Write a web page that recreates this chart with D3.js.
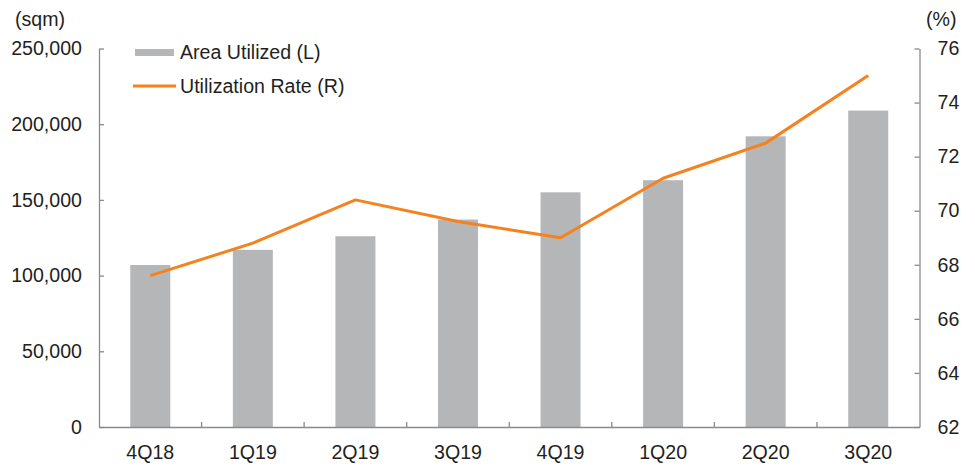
<!DOCTYPE html>
<html>
<head>
<meta charset="utf-8">
<script src="https://cdn.jsdelivr.net/npm/d3@7"></script>
<style>
  body { margin: 0; background: #fff; }
  text { font-family: "Liberation Sans", Arial, sans-serif; fill: #231f20; }
</style>
</head>
<body>
<div id="chart"></div>
<script>
/* global d3 */

const quarters = ['4Q18', '1Q19', '2Q19', '3Q19', '4Q19', '1Q20', '2Q20', '3Q20']
const areaUtilized = [107000, 117000, 126000, 137000, 155000, 163000, 192000, 209000]
const utilRate = [67.6, 68.8, 70.4, 69.6, 69.0, 71.2, 72.5, 75.0]
const leftTicks = [0, 50000, 100000, 150000, 200000, 250000]
const rightTicks = [62, 64, 66, 68, 70, 72, 74, 76]

const width = 975
const height = 466
const plot = {left: 99, right: 919.5, top: 48.5, bottom: 427}
const fontSize = 19.6
const axisColor = '#8a8a8a'
const barColor = '#b5b6b8'
const lineColor = '#f5821f'

const rows = quarters.map((q, i) => ({q: q, area: areaUtilized[i], rate: utilRate[i]}))

const svg = d3.select('#chart')
  .append('svg')
  .attr('width', width)
  .attr('height', height)

const xBand = d3.scaleBand()
  .domain(quarters)
  .range([plot.left, plot.right])
  .paddingInner(0.61)
  .paddingOuter(0.305)

const xStep = d3.scaleBand()
  .domain(quarters)
  .range([plot.left, plot.right])

const yL = d3.scaleLinear().domain([0, 250000]).range([plot.bottom, plot.top])
const yR = d3.scaleLinear().domain([62, 76]).range([plot.bottom, plot.top])

// bars
svg.append('g')
  .selectAll('rect')
  .data(rows)
  .enter()
  .append('rect')
  .attr('x', d => xBand(d.q))
  .attr('width', xBand.bandwidth())
  .attr('y', d => yL(d.area))
  .attr('height', d => yL(0) - yL(d.area))
  .attr('fill', barColor)

// line
const line = d3.line()
  .x(d => xStep(d.q) + xStep.bandwidth() / 2)
  .y(d => yR(d.rate))

svg.append('path')
  .datum(rows)
  .attr('d', line)
  .attr('fill', 'none')
  .attr('stroke', lineColor)
  .attr('stroke-width', 3)
  .attr('stroke-linejoin', 'round')

// left axis
const gL = svg.append('g')
  .attr('transform', `translate(${plot.left},0)`)
  .call(d3.axisLeft(yL)
    .tickValues(leftTicks)
    .tickFormat(d3.format(','))
    .tickSizeInner(-5)
    .tickSizeOuter(0)
    .tickPadding(17))

// right axis
const gR = svg.append('g')
  .attr('transform', `translate(${plot.right},0)`)
  .call(d3.axisRight(yR)
    .tickValues(rightTicks)
    .tickSizeInner(-5)
    .tickSizeOuter(0)
    .tickPadding(18))

// bottom axis
const gB = svg.append('g')
  .attr('transform', `translate(0,${plot.bottom})`)
  .call(d3.axisBottom(xStep)
    .tickSize(0)
    .tickPadding(18))

gB.selectAll('.tick-sep')
  .data(quarters.slice(1))
  .enter()
  .append('line')
  .attr('class', 'tick-sep')
  .attr('x1', d => xStep(d))
  .attr('x2', d => xStep(d))
  .attr('y1', 0)
  .attr('y2', -5)

for (const g of [gL, gR, gB]) {
  g.selectAll('path, line').attr('stroke', axisColor).attr('stroke-width', 1.3)
  g.selectAll('text')
    .attr('font-size', fontSize)
    .attr('font-family', '"Liberation Sans", Arial, sans-serif')
    .attr('fill', '#231f20')
}

// axis units
svg.append('text')
  .attr('x', 15)
  .attr('y', 26)
  .attr('font-size', fontSize)
  .text('(sqm)')

svg.append('text')
  .attr('x', 926)
  .attr('y', 26)
  .attr('font-size', fontSize)
  .text('(%)')

// legend
const legend = svg.append('g')
legend.append('rect')
  .attr('x', 135)
  .attr('y', 49)
  .attr('width', 39)
  .attr('height', 7)
  .attr('fill', barColor)
legend.append('text')
  .attr('x', 180)
  .attr('y', 52.5)
  .attr('dy', '0.35em')
  .attr('font-size', fontSize)
  .text('Area Utilized (L)')

legend.append('line')
  .attr('x1', 133)
  .attr('x2', 176)
  .attr('y1', 86)
  .attr('y2', 86)
  .attr('stroke', lineColor)
  .attr('stroke-width', 3)
legend.append('text')
  .attr('x', 180)
  .attr('y', 86)
  .attr('dy', '0.35em')
  .attr('font-size', fontSize)
  .text('Utilization Rate (R)')
</script>
</body>
</html>
